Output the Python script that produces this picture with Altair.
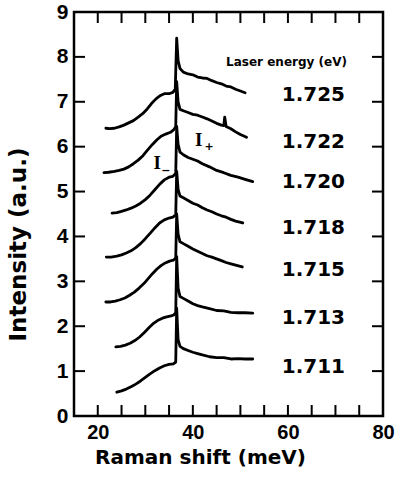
import altair as alt
import pandas as pd

# ---------------- data ----------------
energies = ["1.725", "1.722", "1.720", "1.718", "1.715", "1.713", "1.711"]

c1_x = [21.7, 22.5, 23.5, 24.5, 25.5, 26.5, 27.5, 28.5, 29.5, 30.4, 31.3, 32.3, 33.2, 34.0, 35.0, 35.8, 36.3, 36.6, 36.9, 37.3,
        38.0, 39.0, 40.0, 41.0, 42.0, 43.0, 44.0, 45.0, 46.0, 47.0, 48.0, 49.0, 50.0, 51.0]
c1_y = [6.41, 6.40, 6.41, 6.44, 6.48, 6.53, 6.58, 6.66, 6.74, 6.84, 6.96, 7.07, 7.14, 7.18, 7.18, 7.21, 7.28, 8.42, 7.92, 7.74,
        7.66, 7.62, 7.60, 7.55, 7.53, 7.52, 7.47, 7.43, 7.40, 7.35, 7.33, 7.28, 7.24, 7.20]

c2_x = [21.3, 22.3, 23.5, 24.5, 25.5, 26.5, 27.5, 28.5, 29.5, 30.5, 31.5, 32.5, 33.3, 34.3, 35.3, 36.0, 36.4, 36.6, 36.9, 37.3,
        38.0, 39.0, 40.0, 41.0, 42.0, 43.0, 44.0, 45.0, 46.0, 46.5, 46.7, 47.0, 48.0, 49.0, 50.0, 51.3]
c2_y = [5.42, 5.43, 5.45, 5.47, 5.50, 5.55, 5.62, 5.70, 5.80, 5.93, 6.05, 6.16, 6.23, 6.28, 6.32, 6.38, 6.45, 7.45, 7.00, 6.83,
        6.80, 6.76, 6.72, 6.70, 6.66, 6.62, 6.57, 6.52, 6.48, 6.47, 6.66, 6.45, 6.40, 6.33, 6.27, 6.21]

c3_x = [23.0, 24.0, 25.0, 26.0, 27.0, 28.0, 29.0, 30.0, 31.0, 32.0, 33.0, 34.0, 35.0, 35.8, 36.4, 36.6, 36.9, 37.3,
        38.0, 39.0, 40.0, 41.0, 42.0, 43.5, 45.0, 46.5, 48.0, 49.5, 51.0, 52.6]
c3_y = [4.52, 4.53, 4.56, 4.59, 4.63, 4.68, 4.74, 4.82, 4.92, 5.04, 5.16, 5.26, 5.32, 5.34, 5.40, 6.45, 6.05, 5.88,
        5.82, 5.76, 5.72, 5.68, 5.62, 5.55, 5.47, 5.42, 5.36, 5.32, 5.27, 5.22]

c4_x = [21.8, 22.8, 24.0, 25.0, 26.0, 27.0, 28.0, 29.0, 30.0, 31.0, 32.0, 33.0, 34.0, 35.0, 35.8, 36.4, 36.6, 36.9, 37.3,
        38.0, 39.0, 40.0, 41.0, 42.0, 43.0, 44.0, 45.0, 46.0, 47.0, 48.0, 49.0, 50.5]
c4_y = [3.54, 3.54, 3.56, 3.59, 3.63, 3.68, 3.75, 3.84, 3.95, 4.07, 4.19, 4.30, 4.37, 4.41, 4.43, 4.48, 5.45, 5.05, 4.90,
        4.86, 4.80, 4.74, 4.70, 4.64, 4.59, 4.55, 4.50, 4.46, 4.43, 4.38, 4.34, 4.30]

c5_x = [21.7, 22.7, 23.7, 24.7, 25.7, 26.7, 27.7, 28.7, 29.7, 30.6, 31.5, 32.4, 33.3, 34.2, 35.1, 35.9, 36.4, 36.6, 36.9, 37.3,
        38.0, 39.0, 40.0, 41.0, 42.0, 43.0, 44.0, 45.0, 46.0, 47.0, 48.0, 49.0, 50.4]
c5_y = [2.54, 2.54, 2.56, 2.59, 2.63, 2.69, 2.76, 2.85, 2.95, 3.06, 3.17, 3.27, 3.35, 3.41, 3.45, 3.47, 3.52, 4.50, 4.05, 3.88,
        3.84, 3.78, 3.72, 3.67, 3.62, 3.57, 3.54, 3.50, 3.46, 3.42, 3.39, 3.36, 3.32]

c6_x = [23.8, 24.8, 25.8, 26.8, 27.8, 28.8, 29.8, 30.8, 31.8, 32.8, 33.6, 34.5, 35.4, 36.0, 36.4, 36.6, 36.9, 37.3,
        38.0, 39.0, 40.0, 41.0, 42.0, 43.5, 45.0, 46.5, 48.0, 49.5, 51.0, 52.6]
c6_y = [1.54, 1.55, 1.58, 1.62, 1.68, 1.76, 1.86, 1.97, 2.07, 2.14, 2.18, 2.21, 2.23, 2.25, 2.30, 3.55, 2.85, 2.66,
        2.62, 2.56, 2.50, 2.46, 2.43, 2.39, 2.35, 2.34, 2.31, 2.30, 2.30, 2.29]

c7_x = [24.0, 25.0, 26.0, 27.0, 28.0, 29.0, 30.0, 31.0, 32.0, 33.0, 34.0, 35.0, 35.9, 36.4, 36.6, 36.9, 37.3,
        38.0, 39.0, 40.0, 41.0, 42.0, 43.5, 45.0, 46.5, 48.0, 49.5, 51.0, 52.6]
c7_y = [0.53, 0.56, 0.60, 0.65, 0.71, 0.78, 0.86, 0.94, 1.01, 1.07, 1.12, 1.15, 1.16, 1.20, 2.40, 1.70, 1.55,
        1.50, 1.46, 1.42, 1.39, 1.36, 1.32, 1.30, 1.30, 1.27, 1.28, 1.27, 1.27]

label_x = [58.7] * 7
label_y = [7.15, 6.10, 5.21, 4.19, 3.25, 2.18, 1.09]

header_text = ["Laser energy (eV)"]
header_x = [59.7]
header_y = [7.88]

i_text = ["I", "I"]
i_x = [32.5, 41.25]
i_y = [5.63, 6.15]
sub_text = ["\u2212", "+"]
sub_x = [34.3, 43.4]
sub_y = [5.46, 6.0]

x_tick_vals = [20, 25, 30, 35, 40, 45, 50, 55, 60, 65, 70, 75]
y_tick_vals = [1, 2, 3, 4, 5, 6, 7, 8]
x_label_vals = [20, 40, 60, 80]
y_label_vals = [0, 1, 2, 3, 4, 5, 6, 7, 8, 9]

# ---------------- tables ----------------
curves = [(c1_x, c1_y), (c2_x, c2_y), (c3_x, c3_y), (c4_x, c4_y),
          (c5_x, c5_y), (c6_x, c6_y), (c7_x, c7_y)]
rows = []
for e, (xs_, ys_) in zip(energies, curves):
    for i, (a, b) in enumerate(zip(xs_, ys_)):
        rows.append({"energy": e, "x": a, "y": b, "ord": i})
df = pd.DataFrame(rows)

labels_df = pd.DataFrame({"t": energies, "x": label_x, "y": label_y})
header_df = pd.DataFrame({"t": header_text, "x": header_x, "y": header_y})
i_df = pd.DataFrame({"t": i_text, "x": i_x, "y": i_y})
sub_df = pd.DataFrame({"t": sub_text, "x": sub_x, "y": sub_y})
xt_df = pd.DataFrame({"x": x_tick_vals})
yt_df = pd.DataFrame({"y": y_tick_vals})

W, H = 309, 404
TL = 11

xs = alt.Scale(domain=[15, 80], nice=False, zero=False)
ys = alt.Scale(domain=[0, 9], nice=False, zero=False)

x_axis = alt.Axis(values=x_label_vals, ticks=False, domain=False, grid=False,
                  labelFont="Liberation Sans", labelFontSize=20, labelFontWeight="bold",
                  labelColor="black", labelPadding=6, labelFlush=False, labelOverlap=False,
                  title="Raman shift (meV)", titleFont="DejaVu Sans", titleFontSize=20,
                  titleFontWeight="bold", titleColor="black", titleX=126, titleY=47,
                  titleAlign="center", titleBaseline="alphabetic")
y_axis = alt.Axis(values=y_label_vals, ticks=False, domain=False, grid=False,
                  labelFont="Liberation Sans", labelFontSize=21, labelFontWeight="bold",
                  labelColor="black", labelPadding=6, labelFlush=False, labelOverlap=False,
                  title="Intensity (a.u.)", titleFont="DejaVu Sans", titleFontSize=23,
                  titleFontWeight="bold", titleColor="black", titleAngle=270,
                  titleX=-49, titleY=232, titleAlign="center", titleBaseline="alphabetic")

X = alt.X("x:Q", scale=xs, axis=x_axis)
Y = alt.Y("y:Q", scale=ys, axis=y_axis)

lines = alt.Chart(df).mark_line(color="black", strokeWidth=2.8, strokeJoin="round", strokeCap="round").encode(
    x=X, y=Y, detail="energy:N", order="ord:Q")

rule_style = dict(color="black", strokeWidth=2)
t_left = alt.Chart(yt_df).mark_rule(**rule_style).encode(y=Y, x=alt.value(0), x2=alt.value(TL))
t_right = alt.Chart(yt_df).mark_rule(**rule_style).encode(y=Y, x=alt.value(W - TL), x2=alt.value(W))
t_bottom = alt.Chart(xt_df).mark_rule(**rule_style).encode(x=X, y=alt.value(H - TL), y2=alt.value(H))
t_top = alt.Chart(xt_df).mark_rule(**rule_style).encode(x=X, y=alt.value(0), y2=alt.value(TL))

lab = alt.Chart(labels_df).mark_text(font="DejaVu Sans", fontSize=20, fontWeight="bold",
                                      align="left", baseline="middle", color="black").encode(
    x=X, y=Y, text="t:N")
head = alt.Chart(header_df).mark_text(font="DejaVu Sans", fontSize=12, fontWeight="bold",
                                      align="center", baseline="middle", color="black").encode(
    x=X, y=Y, text="t:N")
itx = alt.Chart(i_df).mark_text(font="Liberation Serif", fontSize=19, fontWeight="bold",
                                align="center", baseline="middle", color="black").encode(
    x=X, y=Y, text="t:N")
stx = alt.Chart(sub_df).mark_text(font="DejaVu Sans", fontSize=11, fontWeight="bold",
                                  align="center", baseline="middle", color="black").encode(
    x=X, y=Y, text="t:N")

chart = alt.layer(lines, t_left, t_right, t_bottom, t_top, lab, head, itx, stx).properties(
    width=W, height=H,
    autosize=alt.AutoSizeParams(type="none"),
    padding={"left": 74, "top": 12, "right": 15, "bottom": 61},
    background="white",
).configure_view(stroke="black", strokeWidth=2.5)

chart.save("out.html", embed_options={"renderer": "svg", "actions": False})
